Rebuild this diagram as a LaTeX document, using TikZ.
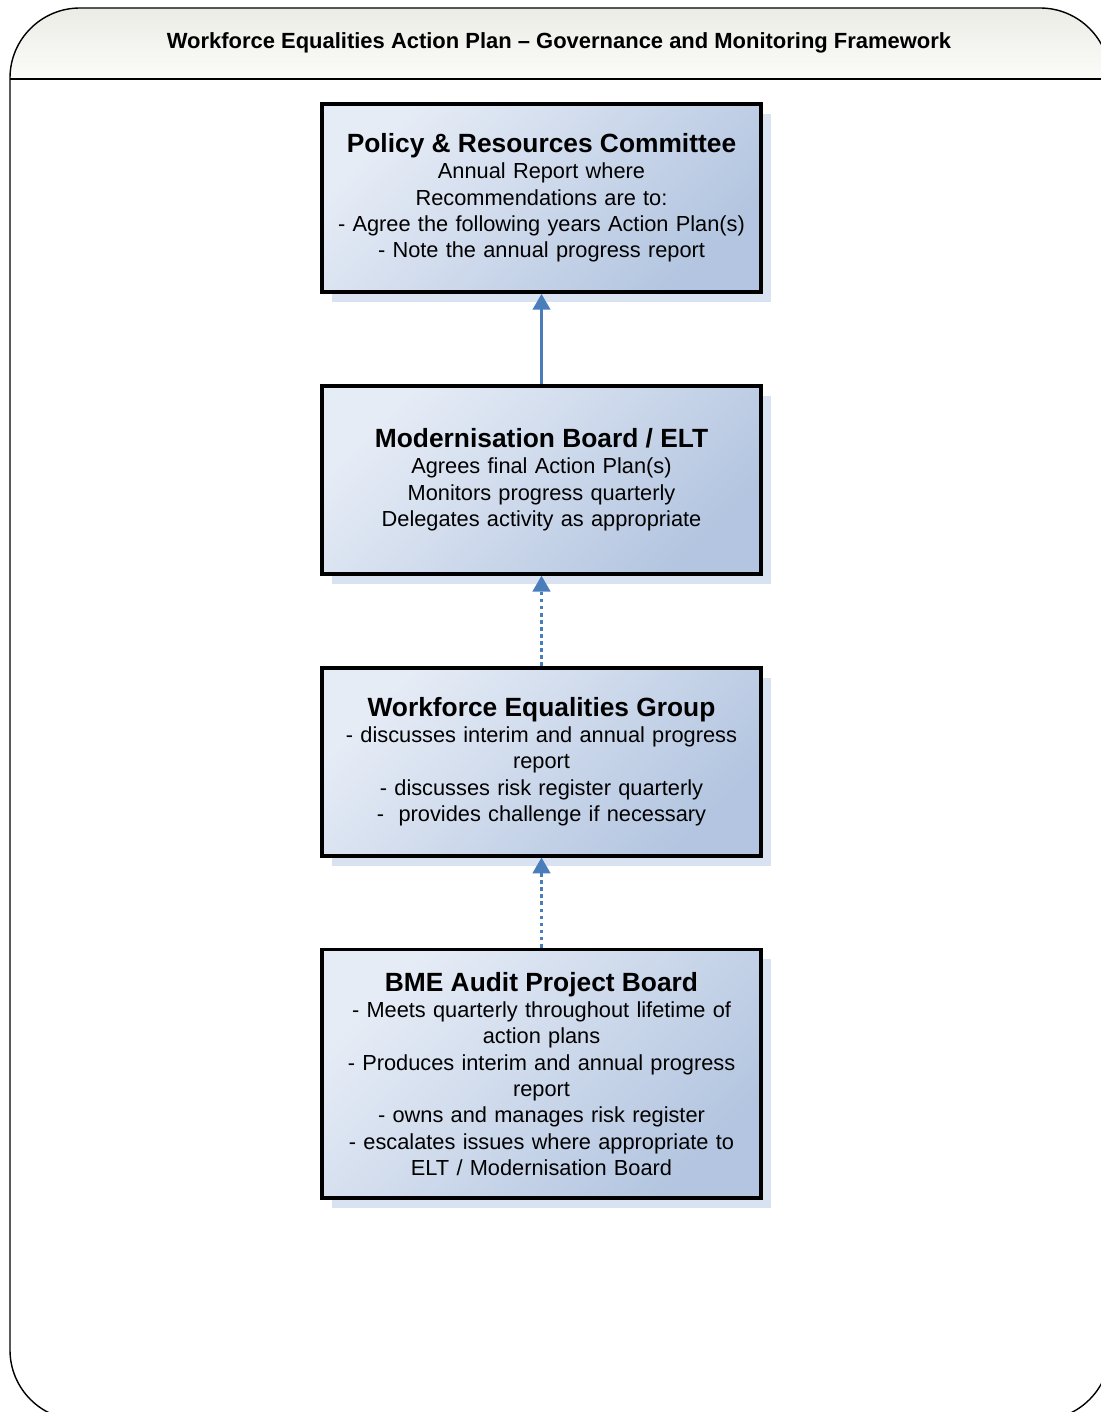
\documentclass[tikz,border=0pt]{standalone}
\usepackage{fontspec}
\setmainfont{Liberation Sans}
\usetikzlibrary{arrows.meta, positioning, shadows}

\definecolor{boxtop}{HTML}{E6ECF6}
\definecolor{boxbot}{HTML}{B3C5E0}
\definecolor{shadowblue}{HTML}{D8E2F1}
\definecolor{linkblue}{HTML}{4A7EBB}
\definecolor{headtop}{HTML}{ECECE6}
\definecolor{headbot}{HTML}{FBFBF9}

\tikzset{
  stage/.style={draw=black, line width=2.2pt, top color=boxtop, bottom color=boxbot, shading angle=45,
    minimum width=8.78cm, minimum height=3.76cm, text width=8.6cm, align=center, inner sep=0pt,
    font=\fontsize{12.4}{15}\selectfont,
    drop shadow={shadow xshift=0.2cm, shadow yshift=-0.2cm, fill=shadowblue, opacity=1}},
  link/.style={draw=linkblue, line width=1.5pt, -{Triangle[width=10pt,length=9pt]}},
  dottedlink/.style={link, dash pattern=on 2.2pt off 1.8pt},
}

\begin{document}
\begin{tikzpicture}[x=0.02cm, y=-0.02cm]
  \useasboundingbox (0,0) rectangle (1100,1412);
  % frame and heading
  \shade[top color=headtop, bottom color=headbot, rounded corners=1.4cm] (10,79) -- (10,8) -- (1110,8) -- (1110,79);
  \draw[line width=0.8pt, rounded corners=1.4cm] (10,8) rectangle (1110,1420);
  \draw[line width=0.8pt] (10,79) -- (1110,79);
  \node[font=\fontsize{12.5}{14}\selectfont\bfseries] (heading) at (559,43) {Workforce Equalities Action Plan – Governance and Monitoring Framework};

  % stages
  \node[stage] (prc) at (541.5,198) {{\fontsize{15}{18}\selectfont\bfseries Policy \& Resources Committee}\\
    Annual Report where\\ Recommendations are to:\\ - Agree the following years Action Plan(s)\\ - Note the annual progress report};
  \node[stage, below=1.8cm of prc] (mbelt) {{\fontsize{15}{18}\selectfont\bfseries Modernisation Board / ELT}\\
    Agrees final Action Plan(s)\\ Monitors progress quarterly\\ Delegates activity as appropriate};
  \node[stage, below=1.8cm of mbelt] (weg) {{\fontsize{15}{18}\selectfont\bfseries Workforce Equalities Group}\\
    - discusses interim and annual progress\\ report\\ - discusses risk register quarterly\\ -\ \ provides challenge if necessary};
  \node[stage, below=1.8cm of weg, minimum height=4.98cm] (bme) {{\fontsize{15}{18}\selectfont\bfseries BME Audit Project Board}\\
    - Meets quarterly throughout lifetime of\\ action plans\\ - Produces interim and annual progress\\ report\\
    - owns and manages risk register\\ - escalates issues where appropriate to\\ ELT / Modernisation Board};

  % links
  \draw[link] (mbelt.north) -- (prc.south);
  \draw[dottedlink] (weg.north) -- (mbelt.south);
  \draw[dottedlink] (bme.north) -- (weg.south);
\end{tikzpicture}
\end{document}
